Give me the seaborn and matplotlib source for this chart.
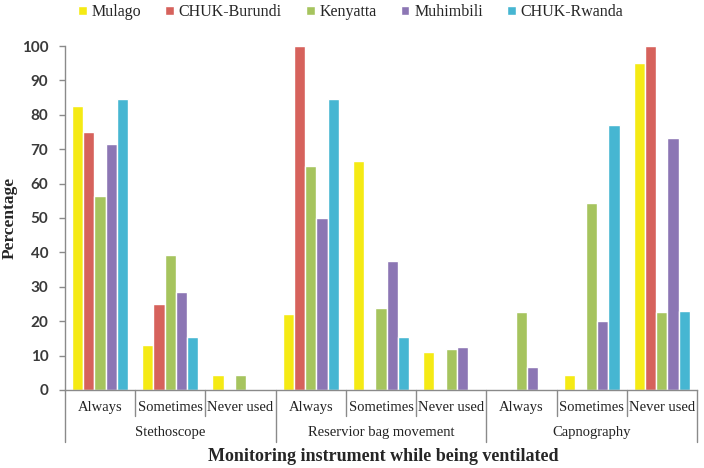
import pandas as pd
import matplotlib.pyplot as plt
import seaborn as sns

# ---------------- DATA ----------------
instruments = ["Stethoscope", "Reservior bag movement", "Capnography"]
frequencies = ["Always", "Sometimes", "Never used"]
sites = ["Mulago", "CHUK-Burundi", "Kenyatta", "Muhimbili", "CHUK-Rwanda"]

# one list per site, order: instrument x frequency (9 groups)
mulago = [82.6, 13.0, 4.3, 22.2, 66.7, 11.1, 0.0, 4.5, 95.0]
chuk_burundi = [75.0, 25.0, 0.0, 100.0, 0.0, 0.0, 0.0, 0.0, 100.0]
kenyatta = [56.5, 39.1, 4.3, 65.2, 23.9, 11.8, 22.7, 54.5, 22.7]
muhimbili = [71.4, 28.6, 0.0, 50.0, 37.5, 12.5, 6.7, 20.0, 73.3]
chuk_rwanda = [84.6, 15.4, 0.0, 84.6, 15.4, 0.0, 0.0, 76.9, 23.1]

colors = ["#F5EA14", "#D6625C", "#A6C45E", "#8C76B4", "#46B6D2"]

# ---------------- LONG TABLE ----------------
groups = [f"{ins}|{fr}" for ins in instruments for fr in frequencies]
rows = []
for site, vals in zip(sites, [mulago, chuk_burundi, kenyatta, muhimbili, chuk_rwanda]):
    for g, v in zip(groups, vals):
        rows.append({"group": g, "site": site, "value": v})
df = pd.DataFrame(rows)

# ---------------- PLOT ----------------
sns.set_style("white")
fig = plt.figure(figsize=(7.04, 4.68), dpi=100)
ax = fig.add_axes([0.0923, 0.1667, 0.8977, 0.735])

sns.barplot(data=df, x="group", y="value", hue="site", order=groups,
            hue_order=sites, palette=colors, width=0.8, saturation=1,
            ax=ax)

ax.set_xlim(-0.5, 8.5)
ax.set_ylim(0, 100)
ax.set_yticks(range(0, 101, 10))
ax.tick_params(axis="y", direction="out", length=4, width=1, color="#8a8a8a",
               left=True, labelsize=11, labelcolor="#3a3a3a", pad=8)
for lab in ax.get_yticklabels():
    lab.set_fontfamily("Lato")
    lab.set_fontweight("bold")
ax.set_xticks([])
ax.set_xlabel("")
ax.set_ylabel("Percentage", family="Liberation Serif", fontweight="bold",
              fontsize=12.5)
ax.yaxis.set_label_coords(-0.075, 0.5)

for s in ["top", "right"]:
    ax.spines[s].set_visible(False)
for s in ["left", "bottom"]:
    ax.spines[s].set_color("#8a8a8a")
    ax.spines[s].set_linewidth(1)

# two-level category axis
trans = ax.get_xaxis_transform()
for i, g in enumerate(groups):
    ins, fr = g.split("|")
    ax.text(i, -0.052, fr, transform=trans, ha="center", va="center",
            family="Liberation Serif", fontsize=10.5, color="#222222")
for i in range(10):
    long_line = i % 3 == 0
    ax.plot([i - 0.5, i - 0.5], [0, -0.151 if long_line else -0.076],
            transform=trans, color="#8a8a8a", lw=1, clip_on=False)
for k, ins in enumerate(instruments):
    ax.text(3 * k + 1, -0.125, ins, transform=trans, ha="center", va="center",
            family="Liberation Serif", fontsize=10.5, color="#222222")

fig.text(0.545, 0.024, "Monitoring instrument while being ventilated",
         ha="center", va="center", family="Liberation Serif",
         fontweight="bold", fontsize=13)

# legend
sns.move_legend(ax, "center", bbox_to_anchor=(0.452, 1.098), ncol=5,
                frameon=False, title=None, handlelength=0.55,
                handleheight=0.55, handletextpad=0.3, columnspacing=1.5,
                prop={"family": "Liberation Serif", "size": 11.5})

plt.savefig("out.png", dpi=100)
